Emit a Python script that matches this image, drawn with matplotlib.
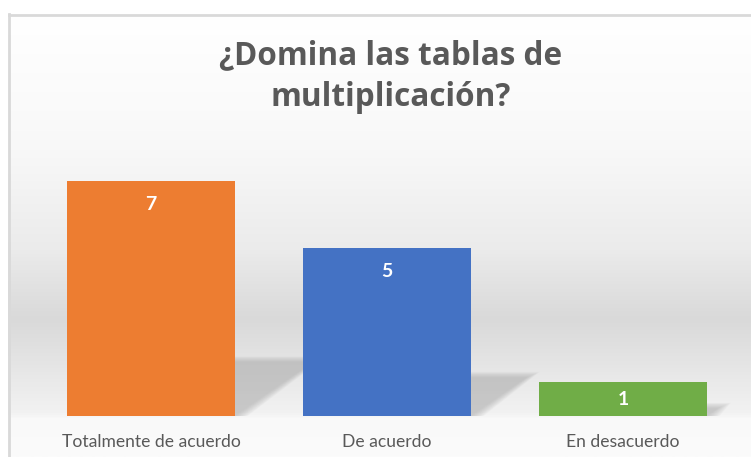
import numpy as np
import matplotlib
matplotlib.use("Agg")
import matplotlib.pyplot as plt
from matplotlib.patches import Polygon
from matplotlib.colors import LinearSegmentedColormap

categories = ["Totalmente de acuerdo", "De acuerdo", "En desacuerdo"]
values = [7, 5, 1]
colors = ["#ED7D31", "#4472C4", "#70AD47"]
title = "¿Domina las tablas de\nmultiplicación?"

plt.rcParams['font.family'] = ['Lato', 'DejaVu Sans']

W, H = 751, 457
fig = plt.figure(figsize=(W / 100, H / 100), dpi=100)
fig.patch.set_facecolor("white")

# chart area background with vertical gradient (Excel style)
bg = fig.add_axes([8 / W, 0, 1 - 8 / W, 1 - 14 / H])
bg.set_xlim(0, 1)
bg.set_ylim(457, 14)
stops = [(14, "#ffffff"), (150, "#f8f8f8"), (250, "#ebebeb"), (320, "#d9d9d9"),
         (414, "#f2f2f2"), (420, "#f9f9f9"), (457, "#fbfbfb")]
ys = np.arange(14, 458)
pos = [(s[0] - 14) / (457 - 14) for s in stops]
cmap = LinearSegmentedColormap.from_list("bg", list(zip(pos, [s[1] for s in stops])))
bg.imshow(ys.reshape(-1, 1), aspect="auto", cmap=cmap, extent=[0, 1, 457, 14],
          vmin=14, vmax=457)
bg.set_axis_off()
bg.plot([0.002, 0.002], [457, 14], color="#d9d9d9", lw=2, clip_on=False)
bg.plot([0.002, 1], [15, 15], color="#d9d9d9", lw=2, clip_on=False)

ax = fig.add_axes([33 / W, 41 / H, 708 / W, 269 / H])
ax.patch.set_alpha(0)
x = np.arange(len(categories))
width = 0.71

# soft perspective shadows behind bars
for xi, v in zip(x, values):
    h = 0.23 * v
    dx = 0.0475 * v
    x0, x1 = xi - width / 2, xi + width / 2
    n = 10
    for k in range(n):
        s = (n - 1 - k) * 0.006
        poly = Polygon([(x0, 0), (x1 + s, 0), (x1 + dx + s, h + s * 3),
                        (x0 + dx, h + s * 3)],
                       closed=True, facecolor="#a8a8a8", edgecolor="none",
                       alpha=0.07, zorder=1)
        ax.add_patch(poly)

bars = ax.bar(x, values, width=width, color=colors, zorder=3)

for xi, v in zip(x, values):
    yl = v - 0.7
    if yl < v / 2:
        yl = v / 2
    ax.text(xi, yl, str(v), ha="center", va="center", color="white",
            fontsize=14, fontweight="bold", zorder=4)

ax.set_xlim(-0.5, 2.5)
ax.set_ylim(0, 8)
ax.set_yticks([])
ax.set_xticks(x)
ax.set_xticklabels(categories, fontsize=12.6, color="#595959")
ax.tick_params(axis="x", length=0, pad=13)
for sp in ax.spines.values():
    sp.set_visible(False)

fig.text(391 / W, 1 - 77 / H, title, ha="center", va="center", fontsize=22.7,
         fontweight="bold", color="#595959", linespacing=1.35,
         family=["Open Sans", "DejaVu Sans"])

fig.savefig("out.png", dpi=100)
